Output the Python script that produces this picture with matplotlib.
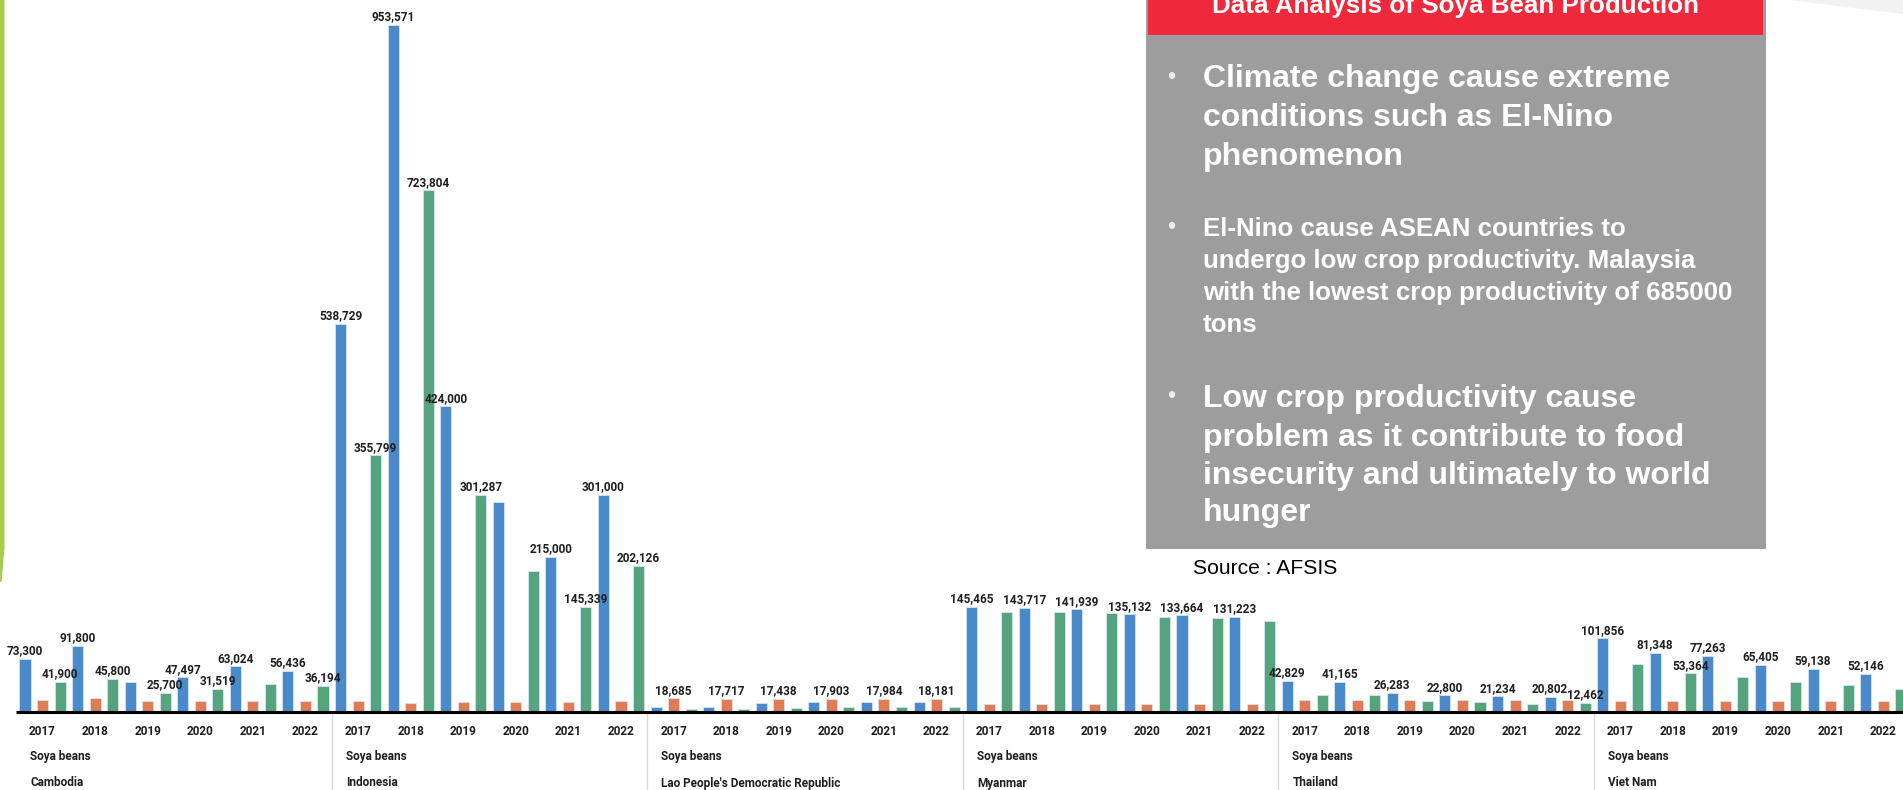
import numpy as np
import matplotlib
matplotlib.use("Agg")
import matplotlib.pyplot as plt
from matplotlib.patches import Rectangle, Polygon
from matplotlib.transforms import blended_transform_factory

countries = ["Cambodia", "Indonesia", "Lao People's Democratic Republic",
             "Myanmar", "Thailand", "Viet Nam"]
years = ["2017", "2018", "2019", "2020", "2021", "2022"]
crop = "Soya beans"

# blue bars
production = [
    [73300, 91800, 41600, 47497, 63024, 56436],
    [538729, 953571, 424000, 291500, 215000, 301000],
    [6900, 6900, 11600, 13400, 13400, 13400],
    [145465, 143717, 141939, 135132, 133664, 131223],
    [42829, 41165, 26283, 22800, 21234, 20802],
    [101856, 81348, 77263, 65405, 59138, 52146],
]
# orange bars
yields = [
    [16200, 19400, 14500, 14500, 14400, 14400],
    [14800, 11700, 13000, 13000, 13000, 14800],
    [18685, 17717, 17438, 17903, 17984, 18181],
    [10300, 10300, 10300, 10300, 10300, 10300],
    [16300, 16300, 16300, 16300, 16300, 16300],
    [14400, 14400, 14400, 14400, 14400, 14400],
]
# green bars
area = [
    [41900, 45800, 25700, 31519, 38000, 36194],
    [355799, 723804, 301287, 195700, 145339, 202126],
    [3700, 3700, 5100, 6900, 6900, 6900],
    [139000, 139000, 137600, 131200, 129800, 126500],
    [22800, 22500, 14800, 13000, 11100, 12462],
    [66600, 53364, 47700, 41600, 36600, 31900],
]

# which bars carry a value label
production_lbl = [[1, 1, 0, 1, 1, 1], [1, 1, 1, 0, 1, 1], [0, 0, 0, 0, 0, 0],
                  [1, 1, 1, 1, 1, 1], [1, 1, 1, 1, 1, 1], [1, 1, 1, 1, 1, 1]]
yields_lbl = [[0] * 6, [0] * 6, [1] * 6, [0] * 6, [0] * 6, [0] * 6]
area_lbl = [[1, 1, 1, 1, 0, 1], [1, 1, 1, 0, 1, 1], [0] * 6,
            [0] * 6, [0, 0, 0, 0, 0, 1], [0, 1, 0, 0, 0, 0]]

bullets = [
    (23, ["Climate change cause extreme", "conditions such as El-Nino", "phenomenon"],
     [87.5, 126, 164.5], 78),
    (18.6, ["El-Nino cause ASEAN countries to", "undergo low crop productivity. Malaysia",
            "with the lowest crop productivity of 685000", "tons"],
     [236.5, 268.2, 300, 331.7], 228),
    (23, ["Low crop productivity cause", "problem as it contribute to food",
          "insecurity and ultimately to world", "hunger"],
     [407.3, 445.7, 484, 521], 397),
]

W, H = 1903, 790
fig = plt.figure(figsize=(W / 100, H / 100), dpi=100)


def fx(x):
    return x / W


def fy(y):
    return 1 - y / H


label_font = ["Roboto", "DejaVu Sans"]
arial = ["Liberation Sans", "DejaVu Sans"]
lsize = 8.5

base_px = 711.7
step_px = 17.53
first_px = 25.0
ax = fig.add_axes([0, fy(base_px), 1, base_px / H])
ax.set_xlim(-first_px / step_px, (W - first_px) / step_px)
ax.set_ylim(0, base_px * 1388)
ax.axis("off")

colors = ["#4a8acb", "#e07c53", "#55a47d"]
n_c, n_y = len(countries), len(years)
for s, (vals, flags) in enumerate([(production, production_lbl),
                                   (yields, yields_lbl),
                                   (area, area_lbl)]):
    v = np.array(vals).ravel()
    f = np.array(flags).ravel()
    x = np.array([18 * c + 3 * j + s for c in range(n_c) for j in range(n_y)])
    ax.bar(x, v, width=0.63, color=colors[s], edgecolor="#d6e4f2",
           linewidth=0.6, zorder=2)
    for xi, vi, fi in zip(x, v, f):
        if fi:
            ax.annotate(f"{vi:,}", (xi, vi), xytext=(0, 3.3),
                        textcoords="offset points", ha="center", va="baseline",
                        fontsize=lsize, fontweight="bold", family=label_font,
                        color="#1e1e1e", annotation_clip=False, zorder=3)

# baseline
ax.plot([-0.5, 18 * n_c], [0, 0], color="black", lw=2.2, clip_on=False,
        solid_capstyle="butt", zorder=4)

# category axis below the bars
tr = blended_transform_factory(ax.transData, fig.transFigure)
for c in range(n_c):
    left = 18 * c - 0.5
    if c > 0:
        ax.plot([left, left], [fy(base_px + 1), 0], transform=tr, color="#d9d9d9",
                lw=1, clip_on=False)
    for j in range(n_y):
        ax.text(18 * c + 3 * j + 1, fy(735), years[j], transform=tr,
                ha="center", va="baseline", fontsize=lsize, fontweight="bold",
                family=label_font, color="#1e1e1e")
    ax.text(left + 14 / step_px, fy(760), crop, transform=tr, ha="left",
            va="baseline", fontsize=lsize, fontweight="bold", family=label_font,
            color="#1e1e1e")
    ax.text(left + 14 / step_px, fy(786.5), countries[c], transform=tr, ha="left",
            va="baseline", fontsize=lsize, fontweight="bold", family=label_font,
            color="#1e1e1e")

# slide decorations: green stripe on the left
fig.add_artist(Polygon([(fx(0), fy(0)), (fx(4.5), fy(0)), (fx(4.5), fy(548)),
                        (fx(1.5), fy(582)), (fx(0), fy(582))],
                       closed=True, transform=fig.transFigure,
                       facecolor="#a5cd4b", edgecolor="none"))
fig.add_artist(Polygon([(fx(1790), fy(0)), (fx(W), fy(0)), (fx(W), fy(14))],
                       closed=True, transform=fig.transFigure,
                       facecolor="#f2f2f2", edgecolor="none"))

# analysis panel
fig.add_artist(Rectangle((fx(1146), fy(549)), fx(1766 - 1146), 549 / H,
                         transform=fig.transFigure, facecolor="#9d9d9d",
                         edgecolor="none", zorder=5))
fig.add_artist(Rectangle((fx(1148), fy(35)), fx(1763 - 1148), 35 / H,
                         transform=fig.transFigure, facecolor="#ed293b",
                         edgecolor="none", zorder=6))
fig.text(fx(1455), fy(13), "Data Analysis of Soya Bean Production", ha="center",
         va="baseline", fontsize=18.7, fontweight="bold", family=arial,
         color="white", zorder=7)

for size, lines, ys, bullet_y in bullets:
    fig.text(fx(1171), fy(bullet_y), "\u2022", ha="center", va="center",
             fontsize=17, family=arial, color="#ececec", zorder=7)
    for line, y in zip(lines, ys):
        fig.text(fx(1203), fy(y), line, ha="left", va="baseline", fontsize=size,
                 fontweight="bold", family=arial, color="white", zorder=7)

fig.text(fx(1193), fy(574.3), "Source : AFSIS", ha="left", va="baseline",
         fontsize=15.2, family=arial, color="black")

fig.savefig("out.png", dpi=100)
